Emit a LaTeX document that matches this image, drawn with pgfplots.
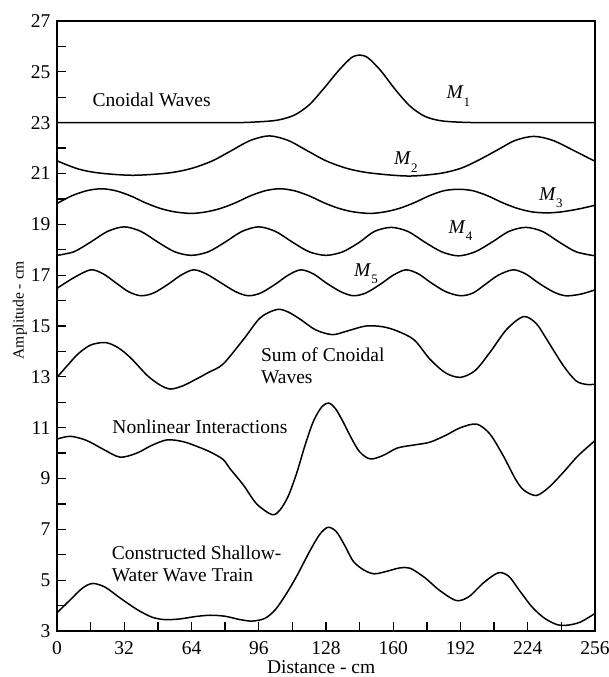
\documentclass[border=0pt]{standalone}
\usepackage{pgfplots}
\pgfplotsset{compat=1.18}
\usepackage{fontspec}
\setmainfont{Liberation Serif}
\newcommand{\Ms}[1]{\textit{M}\raisebox{-0.38em}{\fontsize{13}{13}\selectfont #1}}
\begin{document}
\fontsize{19.5}{22}\selectfont
\begin{tikzpicture}
\begin{axis}[
  name=ax,
  scale only axis, width=538pt, height=610pt,
  xmin=0, xmax=256, ymin=3, ymax=27,
  xtick={0,32,...,256}, ytick={3,5,...,27},
  minor x tick num=1, minor y tick num=1,
  tick pos=left, tick align=inside,
  major tick length=9pt, minor tick length=9pt,
  axis line style={line width=2.6pt},
  tick style={line width=1.3pt, black},
  ticklabel style={font=\fontsize{19.5}{22}\selectfont},
  xticklabel style={yshift=-4pt},
  /pgf/number format/assume math mode=true,
  xlabel={Distance - cm}, ylabel={Amplitude - cm},
  xlabel style={font=\fontsize{19.5}{22}\selectfont, at={(axis description cs:0.491,0)}, anchor=center, yshift=-36pt},
  ylabel style={font=\fontsize{15.5}{18}\selectfont, at={(axis description cs:-0.0688,0.526)}, anchor=center},
  wave/.style={black, line width=1.5pt, smooth, tension=0.5, mark=none},
]
% M1
\addplot[wave] coordinates {(0,23) (80,23) (95,23.03) (105,23.1) (113,23.3) (120,23.7) (127,24.35) (134,25.05) (140,25.55) (144,25.66) (148,25.55) (154,25.05) (161,24.3) (168,23.65) (175,23.25) (183,23.07) (195,23.01) (210,23) (256,23)};
% M2
\addplot[wave] coordinates {(0,21.5) (10,21.18) (20,21.02) (36,20.93) (53,21.02) (64,21.2) (74,21.5) (83,21.9) (92,22.3) (101,22.48) (110,22.3) (119,21.9) (128,21.5) (138,21.2) (149,21.02) (167,20.9) (182,21.0) (192,21.2) (200,21.5) (209,21.9) (218,22.3) (227,22.46) (236,22.3) (246,21.9) (256,21.48)};
% M3
\addplot[wave] coordinates {(0,19.82) (7,20.12) (14,20.32) (21,20.40) (28,20.32) (35,20.12) (42,19.85) (49,19.63) (56,19.49) (64,19.43) (71,19.49) (78,19.63) (85,19.85) (92,20.12) (99,20.32) (106,20.40) (113,20.32) (120,20.12) (127,19.85) (134,19.63) (141,19.49) (149,19.43) (156,19.49) (163,19.63) (170,19.85) (177,20.12) (184,20.32) (191,20.38) (198,20.32) (205,20.12) (212,19.85) (219,19.63) (226,19.49) (233,19.45) (240,19.49) (248,19.6) (256,19.75)};
% M4
\addplot[wave] coordinates {(0,17.78) (8,17.92) (16,18.3) (24,18.72) (32,18.9) (40,18.72) (48,18.3) (56,17.92) (64,17.78) (72,17.92) (80,18.3) (88,18.72) (96,18.9) (104,18.72) (112,18.3) (120,17.92) (128,17.78) (136,17.92) (144,18.3) (151,18.72) (159,18.88) (167,18.72) (175,18.3) (183,17.92) (191,17.76) (199,17.92) (207,18.3) (215,18.72) (223,18.88) (231,18.72) (239,18.3) (247,17.92) (256,17.76)};
% M5
\addplot[wave] coordinates {(0,16.48) (8,16.9) (16,17.21) (22,17.05) (28,16.7) (34,16.35) (40,16.19) (46,16.3) (53,16.65) (59,17.0) (65,17.21) (71,17.05) (78,16.7) (85,16.35) (91,16.19) (97,16.3) (104,16.65) (110,17.0) (116,17.21) (122,17.05) (128,16.7) (135,16.35) (141,16.19) (147,16.3) (154,16.65) (160,17.0) (166,17.21) (172,17.05) (178,16.7) (185,16.35) (192,16.19) (198,16.3) (204,16.65) (210,17.0) (217,17.21) (223,17.05) (229,16.7) (236,16.35) (242,16.19) (249,16.25) (256,16.42)};
% Sum of cnoidal waves
\addplot[wave] coordinates {(0,12.98) (5,13.45) (10,13.9) (16,14.25) (23,14.35) (29,14.15) (35,13.75) (43,13.05) (49,12.68) (54,12.52) (60,12.65) (66,12.9) (72,13.17) (79,13.5) (88.8,14.48) (96.8,15.33) (104.7,15.65) (110,15.55) (116,15.25) (123,14.85) (131,14.66) (138,14.8) (147,15.0) (155,14.97) (162,14.8) (170,14.45) (177.5,13.69) (185,13.15) (192,12.98) (199,13.25) (206,13.96) (214,14.87) (222,15.37) (228,15.1) (233,14.48) (241,13.43) (247,12.84) (252,12.7) (256,12.71)};
% Nonlinear interactions
\addplot[wave] coordinates {(0,10.55) (6.3,10.66) (14,10.5) (22,10.15) (30,9.84) (38,10.0) (45,10.3) (52.4,10.52) (60,10.45) (67,10.25) (73,10.04) (79,9.75) (82.4,9.38) (88.8,8.73) (95,8.0) (102.3,7.58) (106,7.75) (110,8.3) (114,9.2) (118,10.3) (122,11.25) (126,11.82) (129.3,11.97) (132.5,11.75) (136,11.25) (140,10.6) (144,10.05) (149,9.77) (155,9.9) (162,10.2) (170,10.32) (177.5,10.43) (185,10.7) (192,11.0) (199.7,11.14) (206,10.75) (212.3,9.9) (218,9.0) (222,8.55) (228,8.33) (234,8.65) (241,9.25) (248,9.9) (256,10.49)};
% Constructed shallow-water wave train
\addplot[wave] coordinates {(0,3.72) (6,4.2) (12,4.68) (17,4.87) (23,4.72) (30,4.3) (38,3.85) (45,3.55) (51,3.45) (58,3.47) (66,3.57) (73,3.62) (80,3.58) (87,3.45) (93,3.39) (99,3.5) (104,3.85) (109,4.45) (114,5.15) (120,6.1) (125,6.8) (129,7.08) (133,6.9) (137,6.35) (141,5.74) (146,5.4) (151,5.25) (157,5.35) (163,5.48) (168,5.47) (175,5.1) (182,4.6) (190,4.2) (196,4.35) (203,4.9) (210,5.29) (215,5.15) (220,4.6) (226,3.95) (232,3.5) (238,3.25) (243,3.23) (249,3.35) (256,3.69)};

\node at (axis cs:45,23.9) {Cnoidal Waves};
\node at (axis cs:191,24.05) {\Ms{1}};
\node at (axis cs:166,21.45) {\Ms{2}};
\node at (axis cs:235,20.05) {\Ms{3}};
\node at (axis cs:192,18.75) {\Ms{4}};
\node at (axis cs:147,17.05) {\Ms{5}};
\node[align=left, anchor=west, inner sep=0pt] at (axis cs:97,13.45) {Sum of Cnoidal\\Waves};
\node at (axis cs:68,11.03) {Nonlinear Interactions};
\node[align=left, anchor=west, inner sep=0pt] at (axis cs:26,5.65) {Constructed Shallow-\\Water Wave Train};
\end{axis}
\pgfresetboundingbox
\path ([shift={(-57pt,-46pt)}]ax.south west) rectangle ([shift={(14pt,21pt)}]ax.north east);
\end{tikzpicture}
\end{document}
